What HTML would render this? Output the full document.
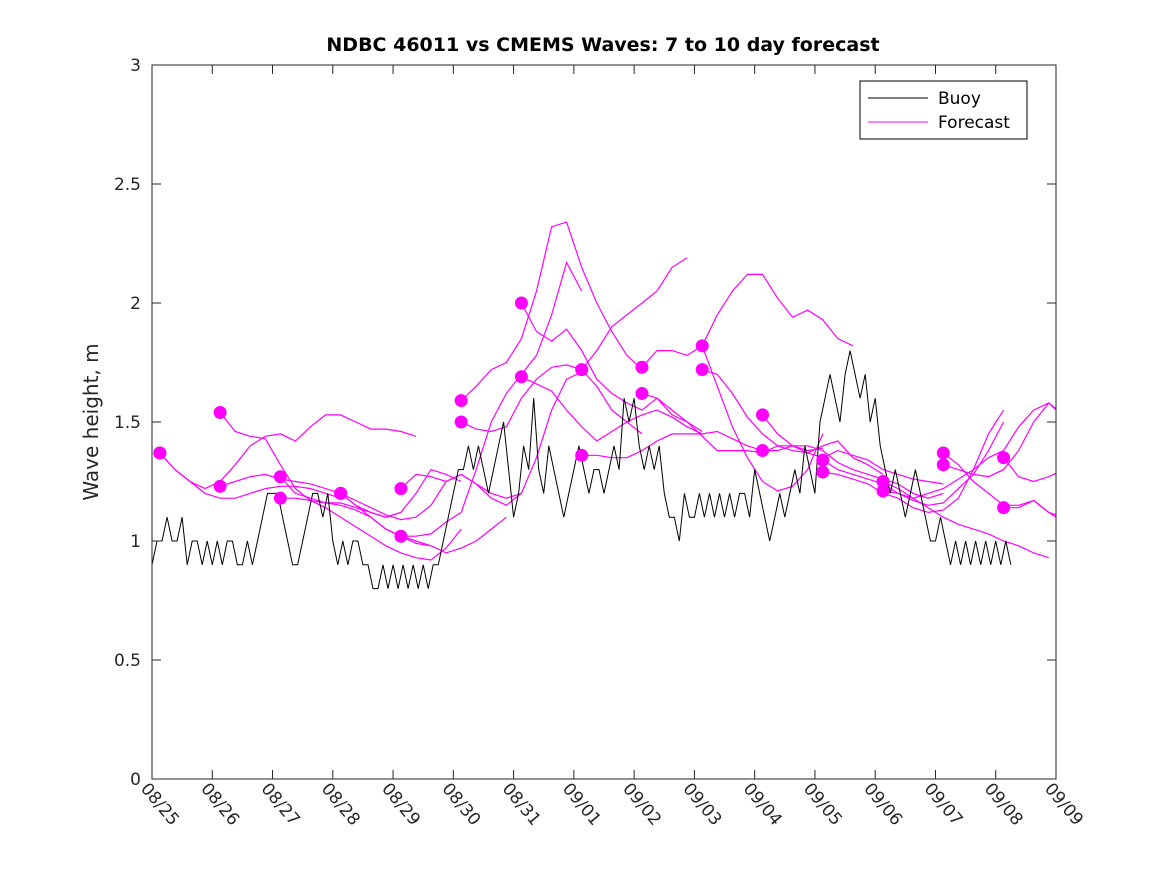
<!DOCTYPE html>
<html><head><meta charset="utf-8"><style>
body{margin:0;background:#fff}
svg{display:block;font-family:"DejaVu Sans","Liberation Sans",sans-serif}
</style></head><body>
<svg id="chart" width="1167" height="875">
<rect width="1167" height="875" fill="#fff"/>
<text x="603" y="51" text-anchor="middle" font-size="19" font-weight="bold" fill="#000">NDBC 46011 vs CMEMS Waves: 7 to 10 day forecast</text>
<text transform="translate(98,422) rotate(-90)" text-anchor="middle" font-size="20" fill="#262626">Wave height, m</text>
<defs><clipPath id="pc"><rect x="152" y="65" width="904" height="714"/></clipPath></defs>
<g id="marks" clip-path="url(#pc)"></g>
<g id="axes"></g>
<g>
<rect x="860" y="81" width="167" height="58" fill="#fff" stroke="#000" stroke-width="1"/>
<line x1="868" y1="98" x2="928" y2="98" stroke="#000" stroke-width="1"/>
<text x="938" y="104" font-size="17" fill="#000">Buoy</text>
<line x1="868" y1="122" x2="928" y2="122" stroke="#f0f" stroke-width="1"/>
<text x="938" y="128" font-size="17" fill="#000">Forecast</text>
</g>
</svg>
<script>
const xTickLabels=["08/25","08/26","08/27","08/28","08/29","08/30","08/31","09/01","09/02","09/03","09/04","09/05","09/06","09/07","09/08","09/09"];
const yTicks=[0,0.5,1,1.5,2,2.5,3];
const yTickLabels=["0","0.5","1","1.5","2","2.5","3"];
const buoyStep=1/12;
const buoy=[0.9,1.0,1.0,1.1,1.0,1.0,1.1,0.9,1.0,1.0,0.9,1.0,
0.9,1.0,0.9,1.0,1.0,0.9,0.9,1.0,0.9,1.0,1.1,1.2,
1.2,1.2,1.1,1.0,0.9,0.9,1.0,1.1,1.2,1.2,1.1,1.2,
1.0,0.9,1.0,0.9,1.0,1.0,0.9,0.9,0.8,0.8,0.9,0.8,
0.9,0.8,0.9,0.8,0.9,0.8,0.9,0.8,0.9,0.9,1.0,1.1,
1.2,1.3,1.3,1.4,1.3,1.4,1.3,1.2,1.3,1.4,1.5,1.3,
1.1,1.2,1.4,1.3,1.6,1.3,1.2,1.4,1.3,1.2,1.1,1.2,
1.3,1.4,1.3,1.2,1.3,1.3,1.2,1.3,1.4,1.3,1.6,1.5,
1.6,1.4,1.3,1.4,1.3,1.4,1.2,1.1,1.1,1.0,1.2,1.1,
1.1,1.2,1.1,1.2,1.1,1.2,1.1,1.2,1.1,1.2,1.2,1.1,
1.3,1.2,1.1,1.0,1.1,1.2,1.1,1.2,1.3,1.2,1.4,1.3,
1.2,1.5,1.6,1.7,1.6,1.5,1.7,1.8,1.7,1.6,1.7,1.5,
1.6,1.4,1.3,1.2,1.3,1.2,1.1,1.2,1.3,1.2,1.1,1.0,
1.0,1.1,1.0,0.9,1.0,0.9,1.0,0.9,1.0,0.9,1.0,0.9,
1.0,0.9,1.0,0.9];
const fcStep=0.25;
const fcStart=[0.13,0.13,1.13,1.13,2.13,2.13,3.13,3.13,4.13,4.13,5.13,5.13,6.13,6.13,7.13,7.13,8.13,8.13,9.13,9.13,10.13,10.13,11.13,11.13,12.13,12.13,13.13,13.13,14.13,14.13];
const fcValues=[
[1.37,1.30,1.25,1.22,1.25,1.32,1.40,1.44,1.45,1.42,1.48,1.53,1.53,1.50,1.47,1.47,1.46,1.44],
[1.37,1.30,1.25,1.20,1.18,1.18,1.20,1.22,1.23,1.23,1.22,1.20,1.18],
[1.54,1.46,1.44,1.43,1.32,1.22,1.17,1.16,1.15,1.13,1.10,1.05,1.02,0.99,0.98],
[1.23,1.25,1.27,1.28,1.26,1.25,1.24,1.22,1.20,1.15,1.12,1.10,1.12],
[1.27,1.20,1.18,1.16,1.16,1.14,1.12,1.10,1.12,1.20,1.30,1.28,1.25],
[1.18,1.18,1.17,1.14,1.10,1.06,1.02,0.98,0.95,0.93,0.92,0.97,1.05],
[1.20,1.17,1.14,1.11,1.09,1.10,1.15,1.25,1.28,1.24,1.20,1.18,1.20],
[1.20,1.15,1.10,1.05,1.02,1.00,0.98,0.95,0.97,1.00,1.05,1.10],
[1.22,1.28,1.27,1.25,1.28,1.24,1.18,1.15,1.20,1.35,1.55,1.68,1.71],
[1.02,1.02,1.03,1.08,1.12,1.30,1.50,1.62,1.70,1.78,1.95,2.17,2.05],
[1.59,1.65,1.72,1.75,1.85,2.05,2.32,2.34,2.15,2.00,1.88,1.78,1.72],
[1.50,1.47,1.46,1.48,1.60,1.68,1.73,1.74,1.72,1.65,1.55,1.50,1.45],
[2.00,1.88,1.84,1.89,1.80,1.68,1.62,1.58,1.55,1.60,1.53,1.50,1.46],
[1.69,1.66,1.63,1.55,1.48,1.42,1.46,1.50,1.53,1.55,1.52,1.48,1.45],
[1.72,1.80,1.90,1.95,2.00,2.05,2.15,2.19],
[1.36,1.36,1.35,1.35,1.38,1.42,1.45,1.45,1.45,1.46,1.43,1.40,1.38],
[1.73,1.80,1.80,1.78,1.82,1.65,1.48,1.35,1.25,1.21,1.23,1.30,1.45],
[1.62,1.60,1.55,1.50,1.44,1.38,1.38,1.38,1.37,1.40,1.40,1.38,1.39],
[1.82,1.95,2.05,2.12,2.12,2.02,1.94,1.97,1.93,1.85,1.82],
[1.72,1.70,1.62,1.52,1.45,1.40,1.38,1.37,1.40,1.42,1.35,1.32,1.28],
[1.53,1.45,1.40,1.37,1.35,1.38,1.36,1.34,1.30,1.28,1.26,1.25,1.24],
[1.38,1.38,1.40,1.40,1.38,1.33,1.30,1.28,1.26,1.24,1.20,1.18,1.20],
[1.34,1.30,1.28,1.26,1.24,1.20,1.17,1.15,1.16,1.22,1.28,1.38,1.50],
[1.29,1.28,1.26,1.24,1.20,1.18,1.14,1.12,1.13,1.18,1.30,1.45,1.55],
[1.25,1.22,1.18,1.14,1.10,1.07,1.05,1.03,1.00,0.98,0.95,0.93],
[1.21,1.20,1.18,1.20,1.22,1.26,1.30,1.35,1.38,1.48,1.55,1.58,1.53],
[1.37,1.32,1.25,1.20,1.15,1.15,1.17,1.12,1.10,1.10,1.12,1.15,1.20],
[1.32,1.30,1.28,1.27,1.30,1.38,1.50,1.58,1.52,1.52,1.55,1.58,1.50],
[1.35,1.27,1.25,1.27,1.30,1.35,1.39],
[1.14,1.14,1.17,1.12,1.08,1.05,1.07]];
const NS="http://www.w3.org/2000/svg";
const X0=152,X1=1056,Y0=779,Y1=65,DAYS=15,YMAX=3;
function xs(d){return X0+(X1-X0)*d/DAYS;}
function ys(v){return Y0-(Y0-Y1)*v/YMAX;}
function mk(t,a,p){const e=document.createElementNS(NS,t);for(const k in a)e.setAttribute(k,a[k]);p.appendChild(e);return e;}
const marks=document.getElementById('marks'),axes=document.getElementById('axes');
fcValues.forEach((arr,i)=>{
  const pts=arr.map((v,j)=>xs(fcStart[i]+j*fcStep).toFixed(1)+','+ys(v).toFixed(1)).join(' ');
  const pl=mk('polyline',{points:pts,fill:'none',stroke:'#f0f','stroke-width':1.2},marks);
  
  
});
const bp=buoy.map((v,j)=>xs(j*buoyStep).toFixed(1)+','+ys(v).toFixed(1)).join(' ');
const bl=mk('polyline',{points:bp,fill:'none',stroke:'#000','stroke-width':1},marks);


fcValues.forEach((arr,i)=>{
  const c=mk('circle',{cx:xs(fcStart[i]),cy:ys(arr[0]),r:6.5,fill:'#f0f'},marks);
  
  
});
mk('rect',{x:X0,y:Y1,width:X1-X0,height:Y0-Y1,fill:'none',stroke:'#262626','stroke-width':1},axes);
yTicks.forEach((v,i)=>{
  const y=ys(v);
  mk('line',{x1:X0,y1:y,x2:X0+9,y2:y,stroke:'#262626'},axes);
  mk('line',{x1:X1,y1:y,x2:X1-9,y2:y,stroke:'#262626'},axes);
  const t=mk('text',{x:X0-11,y:y+6,'text-anchor':'end','font-size':17,fill:'#262626'},axes);
  t.textContent=yTickLabels[i];
  
  
});
xTickLabels.forEach((s,i)=>{
  const x=xs(i);
  mk('line',{x1:x,y1:Y0,x2:x,y2:Y0-9,stroke:'#262626'},axes);
  mk('line',{x1:x,y1:Y1,x2:x,y2:Y1+9,stroke:'#262626'},axes);
  const t=mk('text',{transform:`translate(${x-12},${Y0+10}) rotate(50)`,'font-size':17,fill:'#262626'},axes);
  t.textContent=s;
  
  
});
</script>
</body></html>
